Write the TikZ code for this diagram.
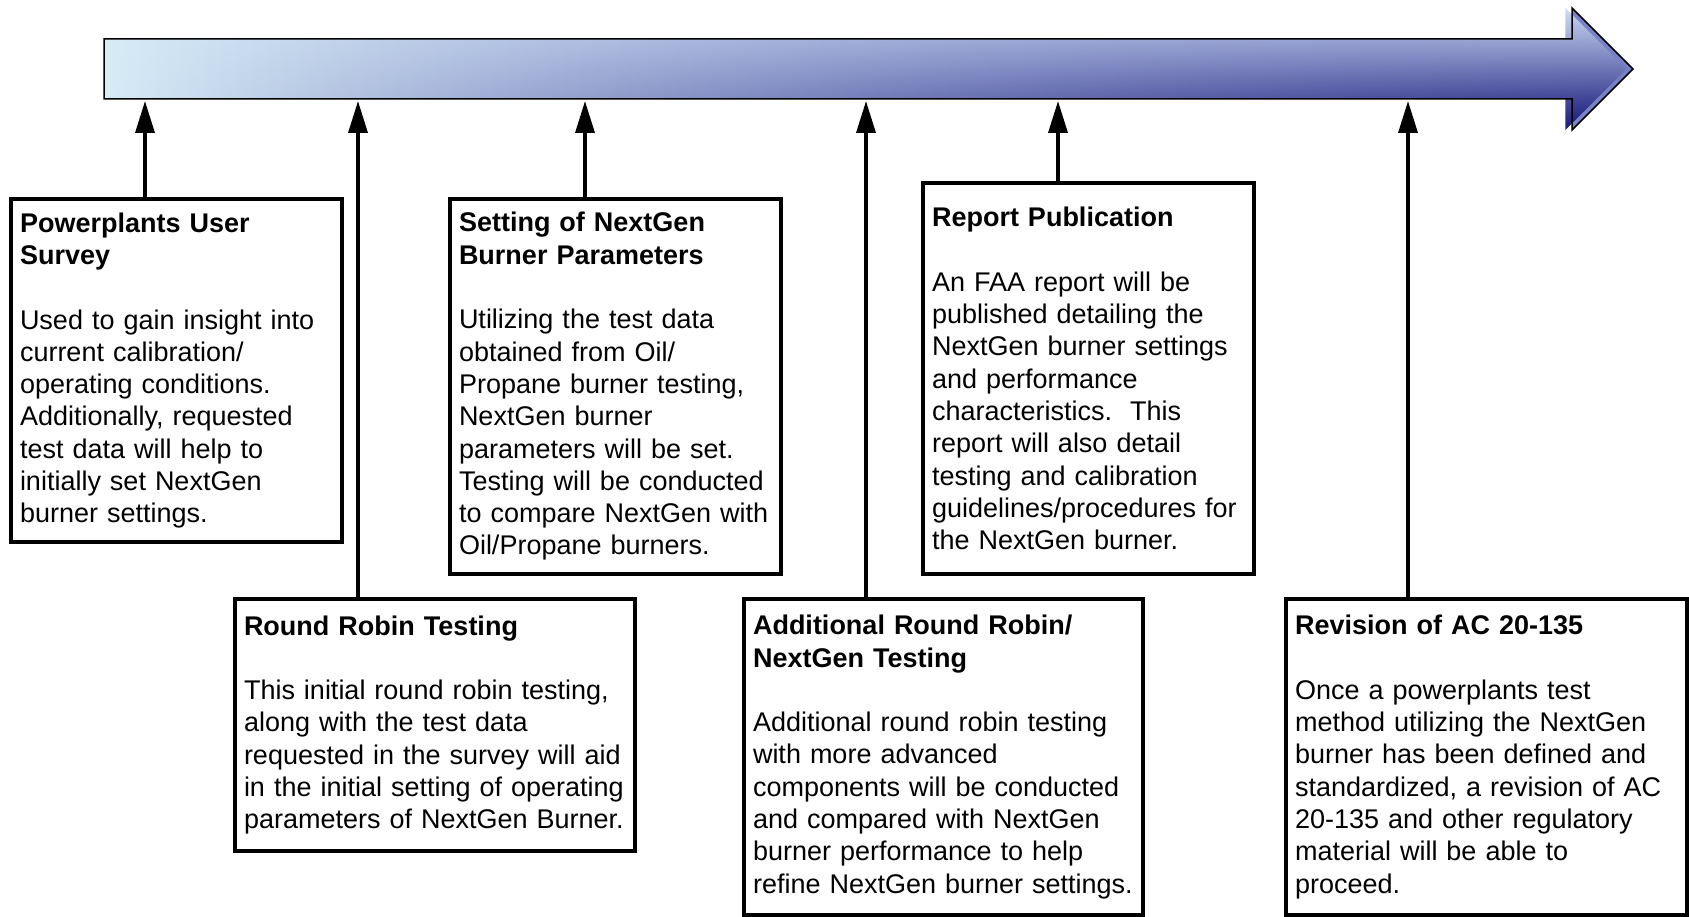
\documentclass[tikz,border=0pt]{standalone}
\usepackage{fontspec}
\setmainfont{Liberation Sans}
\usepackage{xcolor}
\usepackage{tikz}
\usetikzlibrary{arrows.meta}
\usetikzlibrary{fadings}

\definecolor{tlleft}{RGB}{216,236,247}
\definecolor{tlright}{RGB}{118,128,198}
\definecolor{tltop}{RGB}{205,220,245}
\definecolor{tlbottom}{RGB}{15,15,115}

\tikzfading[name=fade in right, left color=transparent!100, right color=transparent!0]

\begin{document}
\begin{tikzpicture}[x=1pt,y=-1pt,
  stagebox/.style={draw, line width=3.5pt, anchor=north west, outer sep=0pt,
    inner xsep=9pt, inner ysep=0pt, align=left,
    font=\fontsize{27}{32.3}\selectfont\frenchspacing},
  link/.style={line width=3.5pt, -{Triangle[length=32pt,width=19pt]}}]
  \useasboundingbox (0,0) rectangle (1689,917);

  % timeline arrow
  \path[left color=tlleft, right color=tlright,
    postaction={top color=tltop, bottom color=tlbottom, path fading=fade in right},
    postaction={draw, line width=1.5pt, line join=miter}]
    (104,39) -- (1572,39) -- (1572,8) -- (1633,69) -- (1572,130) -- (1572,99)
    -- (104,99) -- cycle;

  \foreach \n/\x in {1/145,2/358,3/585,4/866,5/1058,6/1408} {%
    \coordinate (m\n) at (\x,101);
  }

  % upper row
  \node[stagebox, minimum width=331pt, minimum height=343pt, text width=313pt]
    (survey) at (11,199) {\textbf{Powerplants User}\\\textbf{Survey}\\[32.3pt]
    Used to gain insight into\\current calibration/\\operating conditions.\\
    Additionally, requested\\test data will help to\\initially set NextGen\\
    burner settings.};
  \node[stagebox, minimum width=331pt, minimum height=375pt, text width=313pt]
    (setting) at (450,199) {\textbf{Setting of NextGen}\\\textbf{Burner Parameters}\\[32.3pt]
    Utilizing the test data\\obtained from Oil/\\Propane burner testing,\\
    NextGen burner\\parameters will be set.\\Testing will be conducted\\
    to compare NextGen with\\Oil/Propane burners.};
  \node[stagebox, minimum width=331pt, minimum height=391pt, text width=313pt]
    (report) at (923,183) {\textbf{Report Publication}\\[32.3pt]
    An FAA report will be\\published detailing the\\NextGen burner settings\\
    and performance\\characteristics.\ \ This\\report will also detail\\
    testing and calibration\\guidelines/procedures for\\the NextGen burner.};

  % lower row
  \node[stagebox, minimum width=400pt, minimum height=252pt, text width=382pt]
    (robin) at (235,599) {\textbf{Round Robin Testing}\\[32.3pt]
    This initial round robin testing,\\along with the test data\\
    requested in the survey will aid\\in the initial setting of operating\\
    parameters of NextGen Burner.};
  \node[stagebox, minimum width=399pt, minimum height=316pt, text width=381pt]
    (addrobin) at (744,599) {\textbf{Additional Round Robin/}\\\textbf{NextGen Testing}\\[32.3pt]
    Additional round robin testing\\with more advanced\\
    components will be conducted\\and compared with NextGen\\
    burner performance to help\\refine NextGen burner settings.};
  \node[stagebox, minimum width=401pt, minimum height=316pt, text width=383pt]
    (revision) at (1286,599) {\textbf{Revision of AC 20-135}\\[32.3pt]
    Once a powerplants test\\method utilizing the NextGen\\
    burner has been defined and\\standardized, a revision of AC\\
    20-135 and other regulatory\\material will be able to\\proceed.};

  % links to the timeline
  \draw[link] (survey.north -| m1) -- (m1);
  \draw[link] (robin.north -| m2) -- (m2);
  \draw[link] (setting.north -| m3) -- (m3);
  \draw[link] (addrobin.north -| m4) -- (m4);
  \draw[link] (report.north -| m5) -- (m5);
  \draw[link] (revision.north -| m6) -- (m6);
\end{tikzpicture}
\end{document}
